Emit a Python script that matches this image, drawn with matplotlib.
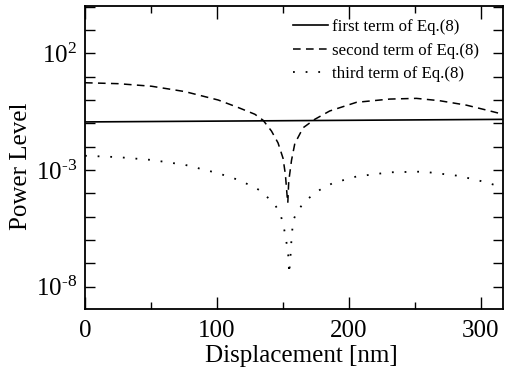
import numpy as np
import matplotlib
matplotlib.use("Agg")
import matplotlib.pyplot as plt
from matplotlib.ticker import FixedLocator, NullFormatter

plt.rcParams['font.family'] = ['Liberation Serif', 'DejaVu Serif']
plt.rcParams['mathtext.fontset'] = 'custom'
plt.rcParams['mathtext.rm'] = 'Liberation Serif'
plt.rcParams['mathtext.it'] = 'Liberation Serif:italic'

# first term (solid), nearly flat
x1 = [0, 317]
y1_log = [-0.94, -0.83]

# second term (dashed) as log10 values
x2 = [0, 25.2, 50.5, 75.8, 101, 116.1, 128.8, 135.1, 141.4, 146.4, 150.2, 152,
      153.6, 153.8, 154.5, 156.6, 159.1, 165.4, 174.2, 185.6, 205.8, 231.1,
      251.3, 268.9, 289.2, 304.3, 316.9]
y2_log = [0.74, 0.70, 0.59, 0.36, 0.0, -0.32, -0.61, -0.87, -1.33, -1.84, -2.50, -3.21,
          -4.34, -4.41, -3.49, -2.59, -1.87, -1.19, -0.83, -0.47, -0.10, 0.04,
          0.07, -0.03, -0.22, -0.43, -0.61]

# third term (dotted)
x3 = [0, 25.2, 50.5, 75.8, 101, 116.1, 128.8, 133.9, 138.9, 143.9, 147.7, 149.5,
      151, 152.3, 153.3, 154.3, 154.8, 155.8, 156.6, 157.8, 160.4, 164.2, 169.2,
      175.5, 180.1, 188.1, 205.8, 231.1, 256.3, 281.6, 296.7, 311.9, 316.7]
y3_log = [-2.39, -2.45, -2.57, -2.78, -3.14, -3.42, -3.75, -3.92, -4.20, -4.48, -4.83, -5.15,
          -5.53, -5.91, -6.31, -6.73, -7.46, -6.73, -5.96, -5.18, -4.83, -4.53, -4.23,
          -3.95, -3.78, -3.56, -3.28, -3.10, -3.07, -3.24, -3.42, -3.66, -3.70]

labels = ["first term of Eq.(8)", "second term of Eq.(8)", "third term of Eq.(8)"]
ytick_vals = [1e-8, 1e-3, 1e2]
ytick_labels = [r'$\mathrm{10^{\text{-}8}}$', r'$\mathrm{10^{\text{-}3}}$', r'$\mathrm{10^{2}}$']

fig = plt.figure(figsize=(5.08, 3.79), dpi=100)
ax = fig.add_axes([85/508, 1 - 309/379, 418/508, 303/379])

ax.plot(x1, 10**np.array(y1_log), 'k-', lw=1.2, label=labels[0])
ax.plot(x2, 10**np.array(y2_log), 'k', ls=(0, (5, 3.5)), lw=1.1, label=labels[1])
ax.plot(x3, 10**np.array(y3_log), 'k', ls=(0, (1, 6)), lw=1.3, label=labels[2])

ax.set_yscale('log')
ax.set_xlim(0, 317)
ax.set_ylim(10**-8.96, 10**4.03)

ax.set_xticks([0, 100, 200, 300])
ax.set_xticks([50, 150, 250], minor=True)
ax.set_yticks(ytick_vals)
ax.set_yticklabels(ytick_labels)
ax.yaxis.set_minor_locator(FixedLocator([10.0**k for k in range(-9, 5) if k not in (-8, -3, 2)]))
ax.yaxis.set_minor_formatter(NullFormatter())

ax.tick_params(which='both', direction='in', top=True, right=True, labelsize=18, width=1.0)
ax.tick_params(axis='x', which='major', length=9, pad=8)
ax.tick_params(axis='x', which='minor', length=5)
ax.tick_params(axis='y', which='both', length=7, pad=6)
for s in ax.spines.values():
    s.set_linewidth(1.3)

ax.set_xlabel('Displacement [nm]', fontsize=18)
ax.set_ylabel('Power Level', fontsize=18)
ax.xaxis.set_label_coords(0.518, -0.119)
ax.yaxis.set_label_coords(-0.127, 0.472)

ax.legend(loc='upper left', bbox_to_anchor=(293/508, 1 - 19/379), bbox_transform=fig.transFigure,
          frameon=False, fontsize=12.2, borderpad=0, borderaxespad=0,
          handlelength=2.07, handletextpad=0.24, labelspacing=0.45)

fig.savefig('out.png', dpi=100)
